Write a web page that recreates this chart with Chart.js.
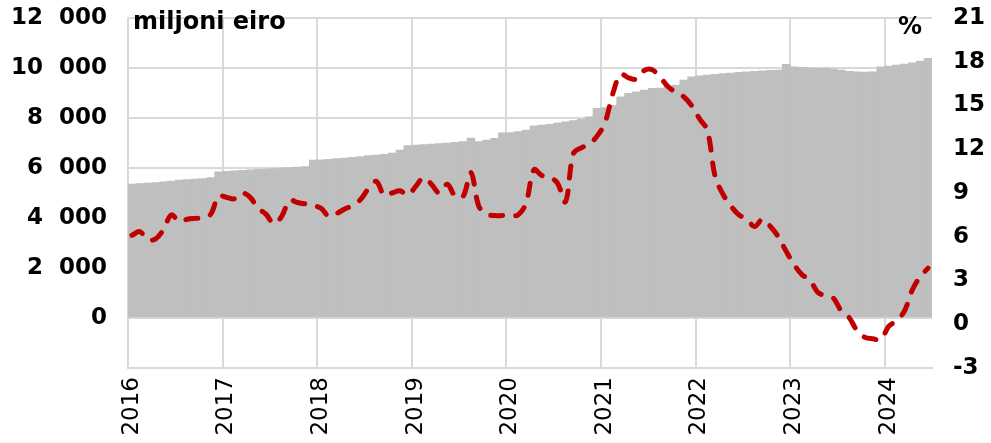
<!DOCTYPE html>
<html>
<head>
<meta charset="utf-8">
<script src="https://cdn.jsdelivr.net/npm/chart.js@4/dist/chart.umd.min.js"></script>
<style>
  body { margin: 0; background: #fff; }
  #wrap { width: 991px; height: 443px; }
</style>
</head>
<body>
<div id="wrap"><canvas id="depositChart" width="991" height="443"></canvas></div>
<script>
// Years on the axis, monthly data Jan 2016 - Jun 2024
const years = [2016, 2017, 2018, 2019, 2020, 2021, 2022, 2023, 2024];
const monthsInLastYear = 6;

// Stock, million euro (grey bars, left axis)
const stockValues = [
  5360, 5380, 5400, 5420, 5450, 5480, 5520, 5540, 5560, 5580, 5620, 5850,
  5870, 5890, 5910, 5930, 5950, 5960, 5980, 6000, 6020, 6040, 6060, 6320,
  6330, 6350, 6380, 6400, 6430, 6460, 6500, 6520, 6550, 6600, 6720, 6900,
  6920, 6940, 6960, 6980, 7000, 7030, 7060, 7200, 7060, 7120, 7190, 7410,
  7420, 7460, 7520, 7690, 7720, 7750, 7800, 7850, 7900, 7960, 8050, 8390,
  8420, 8500, 8850, 8990, 9050, 9120, 9190, 9200, 9280, 9320, 9520, 9650,
  9690, 9720, 9750, 9780, 9800, 9830, 9850, 9870, 9890, 9910, 9920, 10150,
  10050, 10030, 10010, 9990, 10000, 9960, 9920, 9870, 9850, 9840, 9850, 10050,
  10080, 10120, 10160, 10210, 10280, 10390
];

// Annual growth, % (red dashed line, right axis)
const growthRate = [
  6.1, 6.35, 5.8, 5.85, 6.5, 7.5, 7.05, 7.2, 7.26, 7.3, 7.55, 8.8,
  8.7, 8.6, 9.0, 8.7, 7.95, 7.55, 6.9, 7.4, 8.5, 8.35, 8.25, 8.15,
  7.95, 7.4, 7.6, 7.9, 8.15, 8.55, 9.3, 9.8, 8.85, 9.0, 9.15, 8.86,
  9.45, 10.05, 9.6, 9.0, 9.6, 8.8, 8.75, 10.4, 8.1, 7.55, 7.45, 7.45,
  7.45, 7.5, 8.3, 10.6, 10.2, 10.1, 9.66, 8.4, 11.7, 12.1, 12.35, 12.9,
  13.8, 15.8, 17.15, 16.9, 16.8, 17.4, 17.45, 16.95, 16.3, 15.9, 15.6, 15.0,
  14.1, 13.3, 10.1, 8.9, 8.1, 7.5, 7.2, 6.7, 7.2, 6.7, 6.0, 5.0,
  4.1, 3.4, 3.05, 2.2, 1.95, 1.78, 0.9, 0.45, -0.45, -0.9, -1.0, -1.05,
  -0.15, 0.25, 0.9, 2.35, 3.26, 3.85
];

const leftTicks = { min: -2000, max: 12000, step: 2000 };
const rightTicks = { min: -3, max: 21, step: 3 };

// Build month labels
const labels = [];
years.forEach((y) => {
  const n = y === years[years.length - 1] ? monthsInLastYear : 12;
  for (let m = 1; m <= n; m++) {
    labels.push(`${y}-${String(m).padStart(2, '0')}`);
  }
});

const FONT = "'DejaVu Sans', Verdana, sans-serif";
const GRID = '#d9d9d9';

// thousands separated by a wide space, as in the original
function formatThousands(v) {
  return String(v).replace(/\B(?=(\d{3})+(?!\d))/g, '\u2007');
}

// y axes: keep label overhang from pushing the plot down
function fitVertical(width) {
  return (scale) => {
    scale.width = width;
    scale.paddingTop = 0;
    scale.paddingBottom = 0;
  };
}

// Axis captions inside the plot
const captionPlugin = {
  id: 'captions',
  afterDraw(chart) {
    const ctx = chart.ctx;
    const area = chart.chartArea;
    ctx.save();
    ctx.fillStyle = '#000';
    ctx.font = `bold 24px ${FONT}`;
    ctx.textBaseline = 'alphabetic';
    ctx.textAlign = 'left';
    ctx.fillText('miljoni eiro', area.left + 5, area.top + 11);
    ctx.textAlign = 'right';
    ctx.fillText('%', area.right - 10, area.top + 16);
    ctx.restore();
  },
};

const ctx = document.getElementById('depositChart').getContext('2d');
new Chart(ctx, {
  type: 'bar',
  data: {
    labels: labels,
    datasets: [
      {
        type: 'line',
        label: '%',
        data: growthRate,
        yAxisID: 'y1',
        borderColor: '#c00000',
        borderWidth: 5,
        borderDash: [12, 13],
        borderCapStyle: 'round',
        borderJoinStyle: 'round',
        pointRadius: 0,
        tension: 0.35,
        fill: false,
        order: 0,
      },
      {
        label: 'miljoni eiro',
        data: stockValues,
        yAxisID: 'y',
        backgroundColor: '#bfbfbf',
        borderWidth: 0,
        barPercentage: 1,
        categoryPercentage: 1,
        order: 1,
      },
    ],
  },
  options: {
    responsive: false,
    animation: false,
    layout: { padding: { top: 18, left: 0, right: 0, bottom: 0 } },
    plugins: {
      legend: { display: false },
      tooltip: { enabled: false },
    },
    scales: {
      x: {
        offset: true,
        grid: {
          offset: true,
          drawTicks: false,
          lineWidth: 2,
          color: (c) => (c.index % 12 === 0 ? GRID : 'rgba(0,0,0,0)'),
        },
        border: { display: true, color: GRID, width: 2 },
        ticks: {
          autoSkip: false,
          maxRotation: 90,
          minRotation: 90,
          padding: 9,
          color: '#000',
          font: { family: FONT, size: 23 },
          callback: (v, i) => (i % 12 === 0 ? labels[i].slice(0, 4) : ''),
        },
        afterFit: (scale) => {
          scale.height = 75;
        },
      },
      y: {
        position: 'left',
        min: leftTicks.min,
        max: leftTicks.max,
        grid: { drawTicks: false, lineWidth: 2, color: GRID },
        border: { display: true, color: GRID, width: 2 },
        ticks: {
          stepSize: leftTicks.step,
          padding: 21,
          color: '#000',
          font: { family: FONT, size: 23, weight: 'bold' },
          callback: (v) => (v < 0 ? '' : formatThousands(v)),
        },
        afterFit: fitVertical(128),
      },
      y1: {
        position: 'right',
        min: rightTicks.min,
        max: rightTicks.max,
        grid: { display: false, drawTicks: false },
        border: { display: false },
        ticks: {
          stepSize: rightTicks.step,
          padding: 21,
          color: '#000',
          font: { family: FONT, size: 23, weight: 'bold' },
        },
        afterFit: fitVertical(59),
      },
    },
  },
  plugins: [captionPlugin],
});
</script>
</body>
</html>
